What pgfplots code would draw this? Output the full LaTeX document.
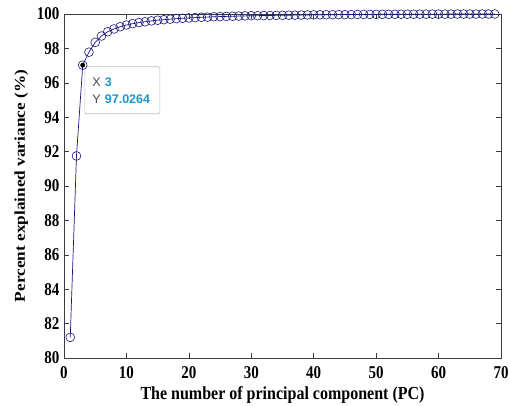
\documentclass[border=0pt]{standalone}
\usepackage{graphicx}
\usepackage{pgfplots}
\pgfplotsset{compat=1.18}
\usepackage{fontspec}
\setmainfont{Liberation Serif}
\newfontfamily\tipfont{Liberation Sans}
\definecolor{mblue}{RGB}{25,25,125}
\definecolor{tipc}{RGB}{30,150,200}
\definecolor{axgray}{RGB}{60,60,60}
\pgfplotstableread{
x y
1 81.2
2 91.75
3 97.0264
4 97.78
5 98.35
6 98.72
7 98.97
8 99.13
9 99.26
10 99.36
11 99.44
12 99.50
13 99.55
14 99.60
15 99.64
16 99.67
17 99.70
18 99.73
19 99.75
20 99.77
21 99.79
22 99.81
23 99.82
24 99.84
25 99.85
26 99.86
27 99.87
28 99.88
29 99.89
30 99.90
31 99.905
32 99.91
33 99.915
34 99.92
35 99.925
36 99.93
37 99.935
38 99.94
39 99.945
40 99.95
41 99.953
42 99.956
43 99.96
44 99.963
45 99.966
46 99.969
47 99.972
48 99.975
49 99.977
50 99.979
51 99.981
52 99.983
53 99.985
54 99.987
55 99.988
56 99.989
57 99.990
58 99.991
59 99.992
60 99.993
61 99.994
62 99.995
63 99.996
64 99.997
65 99.997
66 99.998
67 99.999
68 99.999
69 100.0
}\pcdata
\begin{document}
\begin{tikzpicture}
\path[use as bounding box] (-64pt,-47pt) rectangle (446pt,358pt);
\begin{axis}[
  at={(0pt,0pt)}, anchor=south west,
  scale only axis, width=437pt, height=344pt,
  xmin=0, xmax=70, ymin=80, ymax=100,
  xtick={0,10,...,70}, ytick={80,82,...,100},
  tick align=inside, major tick length=5pt,
  axis line style={axgray, line width=0.6pt},
  tick style={axgray, line width=0.6pt},
  tick label style={font=\fontsize{15}{15}\selectfont\bfseries},
  xticklabel={\scalebox{1}[1.2]{\pgfmathprintnumber[assume math mode=true]{\tick}}},
  yticklabel={\scalebox{1}[1.2]{\pgfmathprintnumber[assume math mode=true]{\tick}}},
  xticklabel style={yshift=-5pt},
  yticklabel style={xshift=-1pt},
  label style={font=\fontsize{15}{16}\selectfont\bfseries},
  xlabel={\fontsize{16}{17}\selectfont\scalebox{1}[1.15]{The number of principal component (PC)}},
  ylabel={\scalebox{1.15}[1]{Percent explained variance (\%)}},
  xlabel style={yshift=-1pt},
  ylabel style={yshift=2pt},
  clip=false,
]
\addplot[mblue, line width=0.7pt, mark=o, mark size=4.4pt, mark options={solid, line width=0.6pt}] table[x=x,y=y] {\pcdata};
\addplot[only marks, mark=*, mark size=2.2pt, black] coordinates {(3,97.0264)};
\node[anchor=north west, draw=black!25, fill=white, rounded corners=2pt, line width=0.6pt,
  inner sep=0pt, minimum width=75pt, minimum height=47pt, align=left, text width=70pt,
  font=\tipfont\fontsize{12.5}{17}\selectfont] at (axis cs:3.3,96.95)
  {\hspace*{5pt}\textcolor{black!70}{X} \textcolor{tipc}{\bfseries 3}\\\hspace*{5pt}\textcolor{black!70}{Y} \textcolor{tipc}{\bfseries 97.0264}};
\end{axis}
\end{tikzpicture}
\end{document}
